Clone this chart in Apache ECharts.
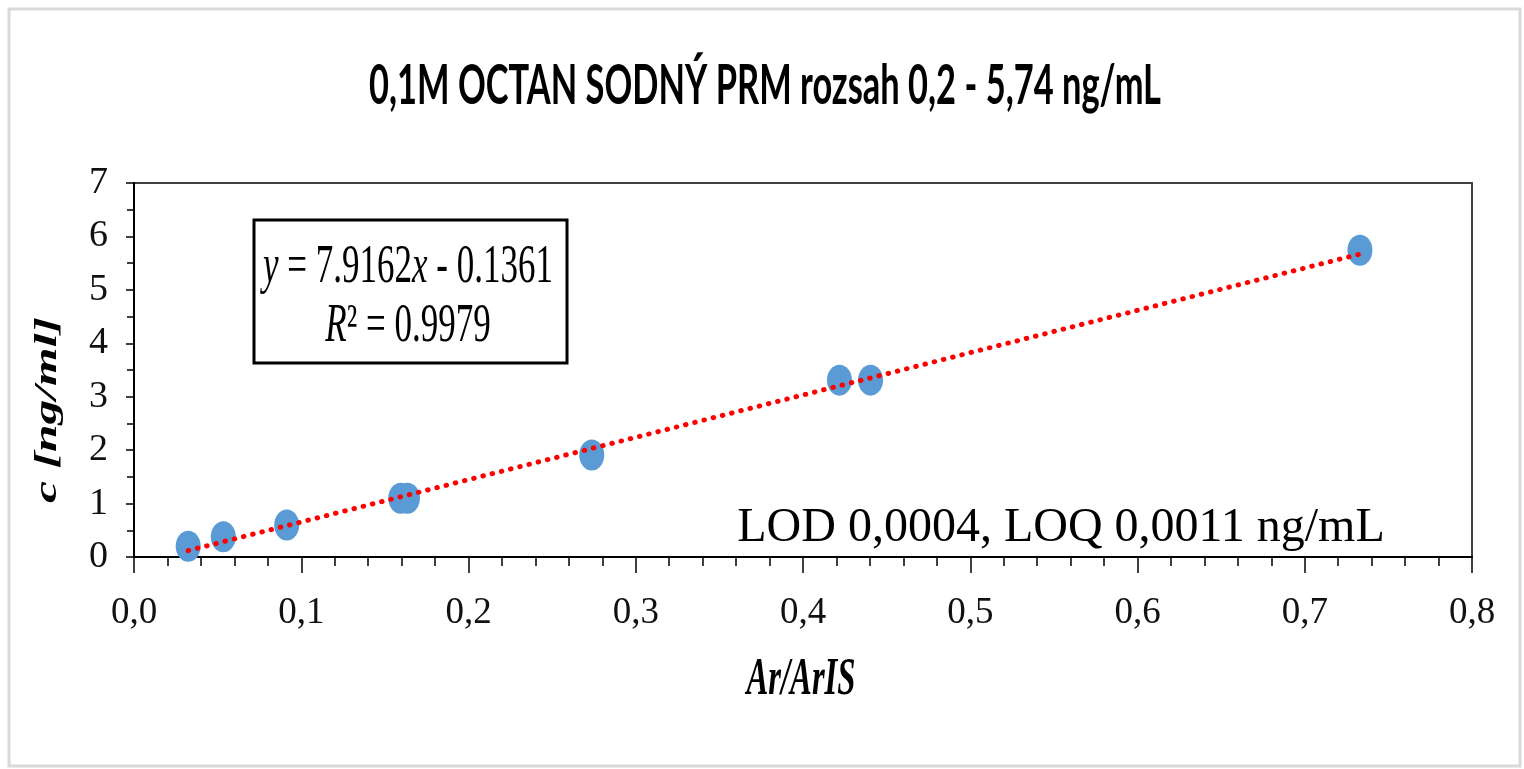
<!DOCTYPE html>
<html>
<head>
<meta charset="utf-8">
<script src="https://cdn.jsdelivr.net/npm/echarts@6/dist/echarts.min.js"></script>
<style>
html,body{margin:0;padding:0;background:#fff;overflow:hidden;}
#chart{width:1524px;height:769px;}
</style>
</head>
<body>
<div id="chart"></div>
<script>
// ---- data ----
const ratioX = [0.0324, 0.0534, 0.0913, 0.1595, 0.1635, 0.2737, 0.4218, 0.4404, 0.733];
const concY  = [0.20, 0.38, 0.60, 1.10, 1.10, 1.91, 3.31, 3.31, 5.74];
const trendX = [0.0324, 0.733];
const trendY = [0.12, 5.67];
const xTickLabels = ['0,0','0,1','0,2','0,3','0,4','0,5','0,6','0,7','0,8'];
const yTickLabels = ['0','1','2','3','4','5','6','7'];
const titleText = '0,1M OCTAN SODNÝ PRM rozsah 0,2 - 5,74 ng/mL';
const eqLine1 = '{i|y}{n| = 7.9162}{i|x}{n| - 0.1361}';
const eqLine2 = '{i|R}{n|² = 0.9979}';
const lodText = 'LOD 0,0004, LOQ 0,0011 ng/mL';
const xName = 'Ar/ArIS';
const yName = 'c [ng/ml]';

const SERIF = 'Liberation Serif';
const ctx = document.createElement('canvas').getContext('2d');
function tw(text, font){ ctx.font = font; return ctx.measureText(text).width; }

const titleFont = 'bold 55px Lato';
const titleScale = 792 / tw(titleText, titleFont);
const eqSize = 54;
const eqItalic = 'italic ' + eqSize + 'px "Liberation Serif"';
const eqNormal = eqSize + 'px "Liberation Serif"';
const eqW = tw('y', eqItalic) + tw(' = 7.9162', eqNormal) + tw('x', eqItalic) + tw(' - 0.1361', eqNormal);
const eqScale = 290 / eqW;
const xNameFont = 'italic bold 52px "Liberation Serif"';
const xNameScale = 109 / tw(xName, xNameFont);
const yNameFont = 'italic bold 46px "Liberation Serif"';
const yNameScale = 186 / tw(yName, yNameFont);

const chart = echarts.init(document.getElementById('chart'));
const scatterData = ratioX.map((x, i) => [x, concY[i]]);
const trendData = trendX.map((x, i) => [x, trendY[i]]);

const eqRich = {
  i: { fontFamily: SERIF, fontStyle: 'italic', fontSize: eqSize, fill: '#000' },
  n: { fontFamily: SERIF, fontStyle: 'normal', fontSize: eqSize, fill: '#000' }
};

chart.setOption({
  animation: false,
  backgroundColor: '#ffffff',
  grid: { left: 134, right: 52, top: 183, bottom: 212, show: true, borderColor: '#404040', borderWidth: 2, containLabel: false },
  xAxis: {
    type: 'value', min: 0, max: 0.8, interval: 0.1,
    axisLine: { show: true, onZero: false, lineStyle: { color: '#000', width: 2 } },
    axisTick: { show: true, inside: false, length: 16, lineStyle: { color: '#000', width: 1.5 } },
    minorTick: { show: true, splitNumber: 5, length: 9, lineStyle: { color: '#000', width: 1.5 } },
    splitLine: { show: false },
    axisLabel: {
      margin: 38, color: '#111', fontFamily: SERIF, fontSize: 37,
      formatter: v => xTickLabels[Math.round(v / 0.1)]
    }
  },
  yAxis: {
    type: 'value', min: 0, max: 7, interval: 1,
    axisLine: { show: true, onZero: false, lineStyle: { color: '#000', width: 2 } },
    axisTick: { show: true, inside: false, length: 8, lineStyle: { color: '#000', width: 1.5 } },
    minorTick: { show: true, splitNumber: 2, length: 7, lineStyle: { color: '#000', width: 1.5 } },
    splitLine: { show: false },
    axisLabel: {
      margin: 26, color: '#111', fontFamily: SERIF, fontSize: 38,
      formatter: v => yTickLabels[Math.round(v)]
    }
  },
  series: [
    {
      type: 'scatter', data: scatterData, symbol: 'circle', symbolSize: [25, 31],
      itemStyle: { color: '#5b9bd5', opacity: 1 }, z: 2
    },
    {
      type: 'line', data: trendData, showSymbol: false, symbol: 'none', z: 3,
      lineStyle: { color: '#ff0000', width: 5, type: [0.5, 9], cap: 'round' }
    }
  ],
  graphic: [
    { type: 'rect', z: -1, shape: { x: 9, y: 9, width: 1511, height: 757 },
      style: { fill: 'none', stroke: '#d9d9d9', lineWidth: 3 } },
    { type: 'text', x: 765, y: 86, scaleX: titleScale, scaleY: 1,
      style: { text: titleText, font: titleFont, fill: '#000', align: 'center', verticalAlign: 'middle', textAlign: 'center', textVerticalAlign: 'middle' } },
    { type: 'rect', shape: { x: 254, y: 220, width: 313, height: 143 },
      style: { fill: '#fff', stroke: '#000', lineWidth: 3 }, z: 10 },
    { type: 'text', x: 408, y: 268, scaleX: eqScale, z: 11,
      style: { text: eqLine1, fontFamily: SERIF, fontSize: eqSize, fill: '#000', rich: eqRich,
        align: 'center', verticalAlign: 'middle', textAlign: 'center', textVerticalAlign: 'middle' } },
    { type: 'text', x: 408, y: 327, scaleX: eqScale, z: 11,
      style: { text: eqLine2, fontFamily: SERIF, fontSize: eqSize, fill: '#000', rich: eqRich,
        align: 'center', verticalAlign: 'middle', textAlign: 'center', textVerticalAlign: 'middle' } },
    { type: 'text', x: 1061, y: 528, z: 11,
      style: { text: lodText, font: '48px "Liberation Serif"', fill: '#000', align: 'center', verticalAlign: 'middle', textAlign: 'center', textVerticalAlign: 'middle' } },
    { type: 'text', x: 801, y: 681, scaleX: xNameScale, z: 11,
      style: { text: xName, font: xNameFont, fill: '#000', align: 'center', verticalAlign: 'middle', textAlign: 'center', textVerticalAlign: 'middle' } },
    { type: 'text', x: 48, y: 410, rotation: Math.PI / 2, scaleX: yNameScale, scaleY: 0.7, z: 11,
      style: { text: yName, font: yNameFont, fill: '#000', align: 'center', verticalAlign: 'middle', textAlign: 'center', textVerticalAlign: 'middle' } }
  ]
});
</script>
</body>
</html>
